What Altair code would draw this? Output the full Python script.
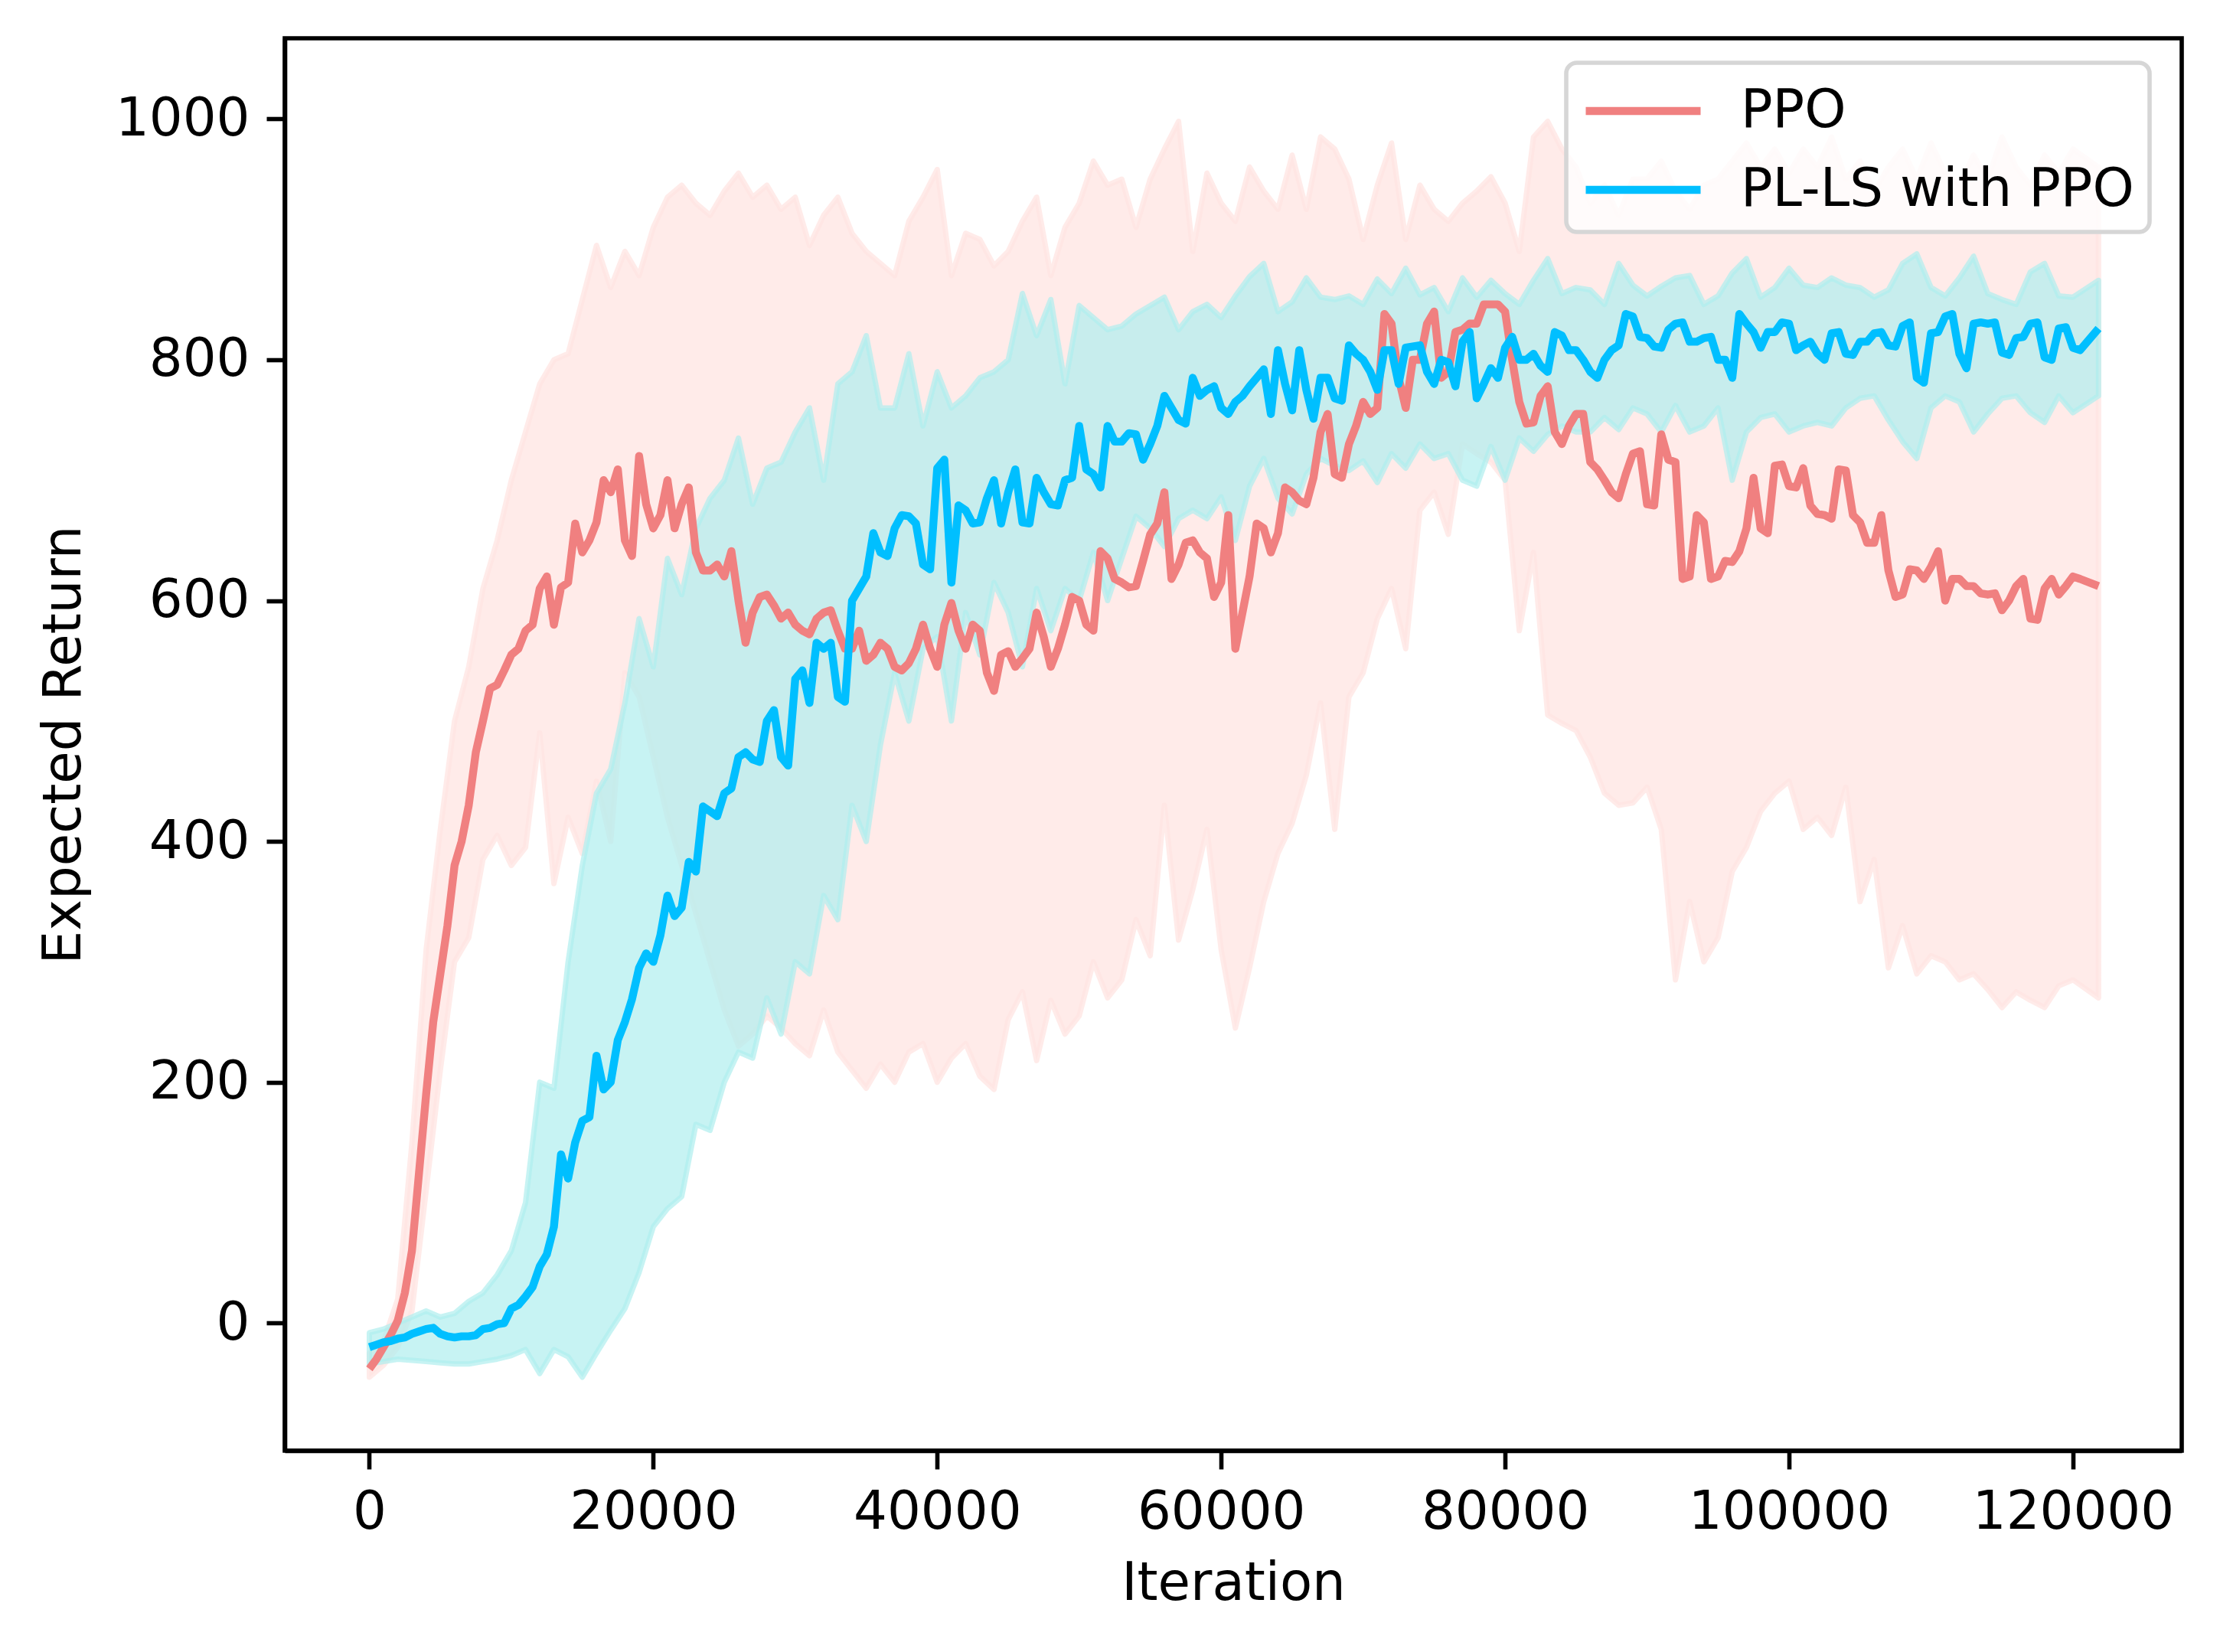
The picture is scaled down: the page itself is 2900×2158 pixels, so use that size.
import altair as alt
import pandas as pd

iterations = [i * 1000 for i in range(121)] + [121800]
half_iterations = [i * 1000 + 500 for i in range(121)]

ppo_mean = [
    -38, -20, 2, 60, 190, 290, 380, 430, 500, 530,
    555, 575, 610, 580, 615, 640, 665, 690, 650, 720,
    660, 700, 680, 640, 625, 620, 600, 590, 605, 585,
    580, 572, 590, 575, 560, 550, 565, 545, 548, 580,
    545, 598, 560, 575, 525, 558, 552, 590, 545, 580,
    600, 575, 635, 615, 612, 655, 690, 630, 650, 635,
    615, 560, 620, 660, 656, 690, 680, 740, 705, 730,
    765, 760, 830, 760, 800, 840, 790, 825, 830, 846,
    840, 765, 748, 778, 730, 755, 715, 700, 685, 722,
    680, 738, 715, 620, 665, 620, 632, 660, 660, 712,
    695, 710, 672, 668, 708, 665, 648, 625, 605, 625,
    628, 600, 618, 612, 605, 592, 612, 585, 610, 605,
    620, 612,
]
ppo_mean_half = [
    -30, -10, 25, 125, 250, 330, 400, 474, 527, 542,
    560, 580, 620, 611, 664, 650, 700, 709, 637, 680,
    671, 660, 694, 625, 630, 641, 565, 603, 596, 590,
    575, 585, 592, 560, 575, 555, 560, 542, 560, 560,
    580, 575, 580, 540, 555, 545, 560, 570, 560, 603,
    580, 641, 618, 611, 633, 664, 618, 648, 640, 603,
    671, 590, 664, 640, 694, 683, 702, 755, 702, 745,
    755, 838, 785, 800, 830, 785, 823, 830, 846, 846,
    800, 747, 770, 740, 745, 755, 709, 690, 705, 724,
    679, 717, 618, 671, 618, 633, 641, 702, 656, 713,
    694, 679, 671, 709, 671, 648, 671, 603, 626, 618,
    641, 618, 612, 606, 606, 600, 618, 584, 618, 612,
    618,
]
ppo_low = [
    -45, -35, -20, 10, 110, 210, 300, 320, 385, 405,
    380, 395, 490, 365, 420, 390, 450, 400, 540, 520,
    470, 420, 380, 340, 300, 260, 230, 240, 255, 245,
    232, 222, 260, 225, 210, 195, 215, 200, 225, 232,
    200, 220, 232, 205, 194, 252, 275, 218, 268, 240,
    255, 300, 270, 285, 335, 305, 430, 318, 360, 410,
    310, 245, 295, 350, 390, 415, 455, 515, 410, 520,
    540, 585, 610, 560, 675, 690, 655, 730, 722, 715,
    700, 575, 640, 505, 498, 492, 470, 440, 430, 432,
    445, 410, 285, 350, 300, 320, 375, 395, 425, 440,
    450, 410, 420, 405, 445, 350, 385, 295, 330, 290,
    305, 300, 285, 290, 277, 262, 275, 268, 262, 280,
    285, 270,
]
ppo_high = [
    -25, -15, 20, 150, 310, 410, 500, 545, 610, 650,
    700, 740, 780, 800, 805, 850, 895, 860, 890, 870,
    910, 935, 945, 930, 920, 940, 955, 935, 945, 925,
    935, 895, 920, 935, 905, 890, 880, 870, 915, 935,
    958, 870, 905, 900, 878, 890, 915, 935, 870, 910,
    930, 965, 945, 950, 910, 950, 975, 998, 890, 955,
    930, 915, 960, 940, 925, 970, 925, 985, 975, 950,
    900, 945, 980, 900, 945, 925, 915, 930, 940, 952,
    930, 890, 985, 998, 975, 960, 930, 945, 920, 950,
    950, 965, 940, 925, 945, 950, 965, 980, 960, 975,
    955, 975, 960, 985, 950, 965, 940, 960, 975, 950,
    980, 955, 945, 970, 950, 985, 960, 945, 970, 955,
    975, 960,
]

pl_mean = [
    -20, -16, -13, -9, -5, -9, -12, -11, -5, -1,
    12, 22, 47, 80, 120, 168, 222, 200, 250, 295,
    300, 355, 345, 375, 425, 440, 470, 468, 500, 470,
    535, 515, 560, 520, 600, 620, 640, 660, 670, 630,
    710, 615, 675, 665, 700, 690, 665, 702, 680, 700,
    745, 705, 745, 732, 738, 730, 770, 750, 785, 775,
    760, 765, 778, 792, 808, 758, 775, 785, 768, 812,
    800, 775, 808, 810, 812, 780, 798, 815, 768, 793,
    810, 800, 805, 790, 820, 808, 790, 800, 812, 836,
    818, 810, 830, 815, 818, 800, 785, 830, 810, 823,
    830, 812, 805, 822, 805, 815, 822, 812, 828, 785,
    822, 836, 805, 830, 830, 806, 818, 830, 802, 826,
    810, 826,
]
pl_mean_half = [
    -18, -15, -12, -7, -4, -11, -11, -10, -4, 0,
    15, 30, 57, 140, 150, 171, 194, 235, 269, 307,
    322, 338, 383, 429, 421, 444, 474, 466, 509, 463,
    542, 565, 565, 516, 610, 656, 637, 671, 664, 626,
    717, 679, 664, 685, 664, 709, 664, 690, 679, 702,
    709, 694, 732, 739, 717, 745, 760, 747, 770, 778,
    755, 770, 785, 755, 780, 808, 751, 785, 766, 805,
    790, 808, 780, 811, 790, 800, 778, 823, 780, 785,
    819, 800, 795, 823, 808, 800, 785, 808, 838, 819,
    811, 825, 831, 815, 819, 800, 838, 823, 823, 831,
    808, 815, 800, 823, 804, 815, 823, 811, 831, 781,
    823, 838, 793, 831, 831, 804, 819, 831, 800, 827,
    808,
]
pl_low = [
    -34, -32, -30, -31, -32, -33, -34, -34, -32, -30,
    -27, -22, -42, -22, -28, -45, -25, -6, 12, 42,
    80, 95, 105, 165, 160, 200, 225, 220, 270, 240,
    300, 290, 355, 335, 430, 400, 480, 540, 500, 560,
    570, 500, 590, 555, 615, 590, 545, 610, 575, 610,
    600, 640, 600, 635, 670, 660, 645, 668, 675, 668,
    686, 650, 695, 718, 685, 672, 705, 718, 712, 708,
    716, 698, 722, 710, 730, 718, 722, 700, 695, 728,
    700, 735, 724, 738, 745, 740, 740, 752, 742, 760,
    755, 740, 762, 740, 745, 760, 700, 740, 752, 755,
    740, 745, 748, 745, 760, 768, 770, 750, 732, 718,
    760, 770, 765, 740, 755, 768, 770, 756, 748, 770,
    756, 770,
]
pl_high = [
    -8, -5, 0, 5, 10, 5, 8, 18, 25, 40,
    60, 100, 200, 195, 300, 380, 440, 460, 515, 585,
    545, 635, 605, 660, 685, 700, 735, 680, 710, 715,
    740, 760, 700, 780, 790, 820, 760, 760, 805, 745,
    790, 760, 770, 785, 790, 800, 855, 820, 850, 780,
    845, 835, 825, 828, 838, 845, 852, 825, 840, 846,
    835, 853, 869, 880, 840, 848, 868, 852, 850, 853,
    846, 867, 855, 876, 854, 860, 840, 868, 852, 866,
    855, 846, 866, 884, 855, 860, 858, 846, 880, 862,
    853, 861, 868, 870, 846, 853, 872, 884, 852, 860,
    876, 862, 860, 868, 862, 860, 852, 858, 880, 888,
    860, 853, 868, 886, 855, 850, 846, 873, 880, 853,
    852, 866,
]

series_names = ["PPO", "PL-LS with PPO"]
line_colors = ["#F08080", "#00BFFF"]
x_ticks = [0, 20000, 40000, 60000, 80000, 100000, 120000]
y_ticks = [0, 200, 400, 600, 800, 1000]

band_rows = []
line_rows = []
for name, m, mh, lo, hi in [
    ("PPO", ppo_mean, ppo_mean_half, ppo_low, ppo_high),
    ("PL-LS with PPO", pl_mean, pl_mean_half, pl_low, pl_high),
]:
    for i, it in enumerate(iterations):
        band_rows.append({"Iteration": it, "series": name, "low": lo[i], "high": hi[i]})
        line_rows.append({"Iteration": it, "series": name, "mean": m[i]})
    for i, it in enumerate(half_iterations):
        line_rows.append({"Iteration": it, "series": name, "mean": mh[i]})
band_df = pd.DataFrame(band_rows)
line_df = pd.DataFrame(line_rows).sort_values(["series", "Iteration"])

FONT = "DejaVu Sans"
xscale = alt.Scale(domain=[-5958, 127660], nice=False, zero=False)
yscale = alt.Scale(domain=[-106, 1067], nice=False, zero=False)
xaxis = alt.Axis(title="Iteration", values=x_ticks, format="d", titlePadding=24)
yaxis = alt.Axis(title="Expected Return", values=y_ticks, format="d", titlePadding=54)

legend = alt.Legend(
    orient="none", legendX=1674, legendY=32, title=None,
    symbolType="M-1,0H3", symbolSize=5625, symbolStrokeWidth=10.4,
    labelFontSize=69, labelFont=FONT, labelColor="black", labelOffset=122,
    padding=20, rowPadding=25, fillColor="rgba(255,255,255,0.8)",
    strokeColor="#D6D6D6", cornerRadius=14, labelLimit=3000,
)
color = alt.Color("series:N", scale=alt.Scale(domain=series_names, range=line_colors), legend=legend)

bands = alt.Chart(band_df)
lines = alt.Chart(line_df)

band_ppo = bands.transform_filter(alt.datum.series == "PPO").mark_area(
    fill="#FFE4E1", fillOpacity=0.75, stroke="#FFE4E1", strokeOpacity=0.75,
    strokeWidth=7, strokeJoin="round"
).encode(
    x=alt.X("Iteration:Q", scale=xscale, axis=xaxis),
    y=alt.Y("low:Q", scale=yscale, axis=yaxis),
    y2="high:Q",
)
band_pl = bands.transform_filter(alt.datum.series == "PL-LS with PPO").mark_area(
    fill="#AFEEEE", fillOpacity=0.7, stroke="#AFEEEE", strokeOpacity=0.7,
    strokeWidth=7, strokeJoin="round"
).encode(
    x=alt.X("Iteration:Q", scale=xscale, axis=xaxis),
    y=alt.Y("low:Q", scale=yscale, axis=yaxis),
    y2="high:Q",
)
line_ppo = lines.transform_filter(alt.datum.series == "PPO").mark_line(
    strokeWidth=10.4, strokeJoin="round"
).encode(
    x=alt.X("Iteration:Q", scale=xscale, axis=xaxis),
    y=alt.Y("mean:Q", scale=yscale, axis=yaxis),
    color=color,
)
line_pl = lines.transform_filter(alt.datum.series == "PL-LS with PPO").mark_line(
    strokeWidth=10.4, strokeJoin="round"
).encode(
    x=alt.X("Iteration:Q", scale=xscale, axis=xaxis),
    y=alt.Y("mean:Q", scale=yscale, axis=yaxis),
    color=color,
)

chart = alt.layer(band_ppo, band_pl, line_ppo, line_pl).properties(
    width=2478, height=1845,
    padding={"left": 364, "top": 42, "right": 42, "bottom": 250},
    autosize=alt.AutoSizeParams(type="none"),
    background="white",
).configure_view(
    stroke="black", strokeWidth=5.6
).configure_axis(
    grid=False, domainColor="black", domainWidth=5.6,
    tickColor="black", tickWidth=5.6, tickSize=24,
    labelFont=FONT, labelFontSize=69, labelColor="black", labelPadding=22,
    labelLimit=1000,
    titleFont=FONT, titleFontSize=69, titleColor="black", titleFontWeight="normal",
    labelFlush=False, labelOverlap=False,
).configure_legend(
    strokeWidth=5.6
)

chart.save("out.html", embed_options={"renderer": "svg", "actions": False})
